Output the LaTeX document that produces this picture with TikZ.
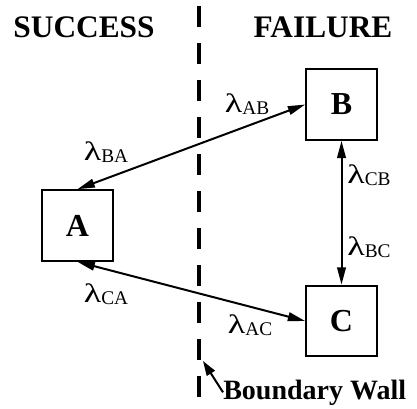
\documentclass[tikz,border=0pt]{standalone}
\usepackage{fontspec}
\setmainfont{Liberation Serif}
\usepackage{tikz}
\usetikzlibrary{arrows.meta, positioning}

% rate label: lambda with a subscript
\newcommand{\rate}[1]{\scalebox{1.35}[1]{\fontsize{20}{20}\selectfont λ}\raisebox{-2pt}{\fontsize{14.5}{14.5}\selectfont #1}}

\begin{document}
\begin{tikzpicture}[
    x=0.75pt, y=-0.75pt,
    % Styles
    statebox/.style={rectangle, draw, line width=1.5pt, minimum size=53pt, inner sep=0pt, font=\fontsize{24}{24}\selectfont\bfseries},
    side/.style={anchor=base, inner sep=0pt, font=\fontsize{23.5}{24}\selectfont\bfseries},
    ratelabel/.style={anchor=base, inner sep=0pt},
    trans/.style={{Triangle[length=13pt,width=6.5pt]}-{Triangle[length=13pt,width=6.5pt]}, line width=1.5pt},
    pointer/.style={-{Triangle[length=11pt,width=7pt]}, line width=1.5pt},
    wallline/.style={line width=3.6pt, dash pattern=on 15.75pt off 12pt}
]
    \useasboundingbox (0,0) rectangle (417,408);

    % --- Headings ---
    \node[side] (success) at (84,37) {SUCCESS};
    \node[side] (failure) at (323,37) {FAILURE};

    % --- Boundary wall ---
    \coordinate (walltop) at (199,6);
    \coordinate (wallbot) at (199,408);
    \draw[wallline] (walltop) -- (wallbot);

    % States
    \node[statebox] (A) at (77.5,225.5) {A};
    \node[statebox] (B) at (341.5,104.5) {B};
    \node[statebox] (C) at (341.5,321) {C};

    % Transitions
    \draw[trans] (A.north) -- (B.west);
    \draw[trans] (A.south) -- (C.west);
    \draw[trans] (B.south) -- (C.north);

    % Rates
    \node[ratelabel] (lab) at (247,112) {\rate{AB}};
    \node[ratelabel] (lba) at (106,160) {\rate{BA}};
    \node[ratelabel] (lca) at (106,302) {\rate{CA}};
    \node[ratelabel] (lac) at (250,333) {\rate{AC}};
    \node[ratelabel] (lcb) at (369,183) {\rate{CB}};
    \node[ratelabel] (lbc) at (369,255) {\rate{BC}};

    % --- Wall label ---
    \node[anchor=base west, inner sep=0pt, font=\fontsize{21}{21}\selectfont\bfseries] (wall) at (223,399) {Boundary Wall};
    \coordinate (walltip) at (203,361);
    \draw[pointer] (wall.west) -- (walltip);

\end{tikzpicture}
\end{document}
